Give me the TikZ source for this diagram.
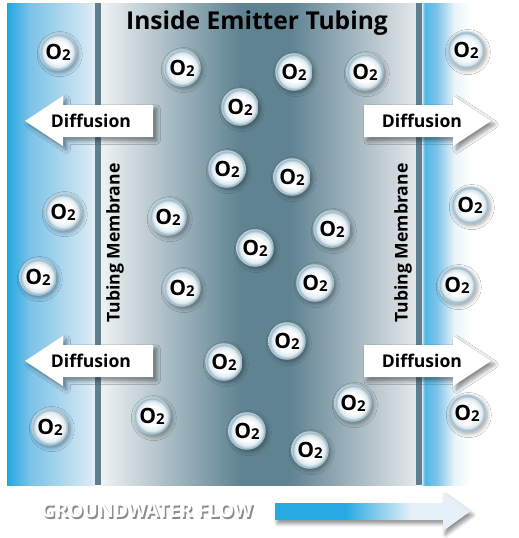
\documentclass[tikz,border=0pt]{standalone}
\usepackage{fontspec}
\setmainfont{Open Sans}
\usepackage{tikz}
\usetikzlibrary{positioning,shadows.blur}

\definecolor{bandblue}{RGB}{34,168,225}
\definecolor{bandmid}{RGB}{124,194,232}
\definecolor{bandpale}{RGB}{214,232,244}
\definecolor{tubelight}{RGB}{238,242,243}
\definecolor{tubedark}{RGB}{96,131,146}
\definecolor{tuberight}{RGB}{228,232,234}
\definecolor{membrane}{RGB}{95,126,142}
\definecolor{flowblue}{RGB}{38,170,225}
\definecolor{flowpale}{RGB}{230,240,248}
\definecolor{bubblesoft}{RGB}{222,234,240}
\definecolor{bubblerim}{RGB}{150,180,196}
\definecolor{bubbleedge}{RGB}{200,216,224}

%% shadings (25bp..75bp spans the filled box)
\pgfdeclarehorizontalshading{leftband}{100bp}{color(0bp)=(bandblue); color(25bp)=(bandblue); color(38bp)=(bandmid); color(72bp)=(bandpale); color(75bp)=(bandpale!60); color(100bp)=(bandpale!60)}
\pgfdeclarehorizontalshading{rightband}{100bp}{color(0bp)=(bandpale); color(25bp)=(bandpale); color(26.5bp)=(bandblue!80); color(33bp)=(bandmid); color(43bp)=(bandpale!50); color(52bp)=(white); color(100bp)=(white)}
\pgfdeclarehorizontalshading{tube}{100bp}{color(0bp)=(tubelight); color(25bp)=(tubelight); color(47bp)=(tubedark); color(55bp)=(tubedark); color(75bp)=(tuberight); color(100bp)=(tuberight)}
\pgfdeclarehorizontalshading{gwflow}{100bp}{color(0bp)=(flowblue); color(25bp)=(flowblue); color(43bp)=(flowblue); color(60bp)=(flowpale); color(100bp)=(flowpale)}
\pgfdeclareradialshading{bubble}{\pgfpoint{0bp}{0bp}}{color(0bp)=(white); color(13bp)=(white); color(20bp)=(bubblesoft); color(23.5bp)=(bubblerim); color(25bp)=(bubbleedge); color(50bp)=(bubbleedge)}

\newcommand{\oxy}{O{\fontsize{8.5}{8.5}\selectfont\raisebox{-0.6pt}{2}}}

\begin{document}
\begin{tikzpicture}[
  x=0.02cm, y=-0.02cm,
  every node/.style={font=\bfseries},
  bubble/.style={circle, shade, shading=bubble, minimum size=0.75cm, inner sep=0pt,
    font=\fontsize{12}{12}\bfseries\selectfont,
    blur shadow={shadow xshift=1pt, shadow yshift=-1.2pt, shadow opacity=35, shadow blur steps=6}},
  diffarrow/.style={fill=white,
    blur shadow={shadow xshift=2pt, shadow yshift=-2pt, shadow opacity=45, shadow blur steps=8}},
  difflabel/.style={font=\fontsize{10}{10}\bfseries\selectfont},
  memlabel/.style={rotate=90, font=\fontsize{10}{10}\bfseries\selectfont},
]
\useasboundingbox (0,0) rectangle (518,538);

%% water bands and tubing
\shade[shading=leftband] (7,3) rectangle (95,485);
\shade[shading=rightband] (422,3) rectangle (512,485);
\shade[shading=tube] (101,3) rectangle (416,485);
\fill[membrane] (95,3) rectangle (101,485);
\fill[membrane] (416,3) rectangle (422,485);

\node[font=\fontsize{14}{14}\bfseries\selectfont] (title) at (257,23) {Inside Emitter Tubing};
\node[memlabel] (memleft) at (115,243) {Tubing Membrane};
\node[memlabel] (memright) at (403,243) {Tubing Membrane};

%% oxygen molecules
\foreach \nm/\x/\y in {
  o1/58/52, o2/182/68, o3/240/107, o4/294/72, o5/365/72, o6/466/50,
  o7/227/169, o8/292/177, o9/63/212, o10/168/217, o11/470/205,
  o12/332/229, o13/255/248, o14/38/277, o15/182/288, o16/315/283,
  o17/457/285, o18/287/341, o19/224/362, o20/353/403, o21/152/416,
  o22/467/413, o23/50/427, o24/247/431, o25/310/450%
}{
  \node[bubble] (\nm) at (\x,\y) {\oxy};
}

%% diffusion arrows (left / right)
\foreach \nm/\y in {dul/121, dll/361}{
  \fill[diffarrow] (25,\y) -- (63,\y-25) -- (63,\y-16) -- (153,\y-16)
    -- (153,\y+16) -- (63,\y+16) -- (63,\y+25) -- cycle;
  \node[difflabel] (\nm) at (91,\y) {Diffusion};
}
\foreach \nm/\y in {dur/121, dlr/361}{
  \fill[diffarrow] (491,\y) -- (453,\y-25) -- (453,\y-16) -- (364,\y-16)
    -- (364,\y+16) -- (453,\y+16) -- (453,\y+25) -- cycle;
  \node[difflabel] (\nm) at (422,\y) {Diffusion};
}

%% groundwater flow
\node[font=\fontsize{11}{11}\bfseries\selectfont, text=black!45] (gwshadow) at (148.6,512.6) {GROUNDWATER FLOW};
\node[font=\fontsize{11}{11}\bfseries\selectfont, text=white] (gwlabel) at (147,511) {GROUNDWATER FLOW};
\shade[shading=gwflow, blur shadow={shadow xshift=1.5pt, shadow yshift=-2pt, shadow opacity=45, shadow blur steps=6}]
  (275,503) -- (443,503) -- (443,492) -- (470,511.5) -- (443,531) -- (443,520) -- (275,520) -- cycle;

\end{tikzpicture}
\end{document}
